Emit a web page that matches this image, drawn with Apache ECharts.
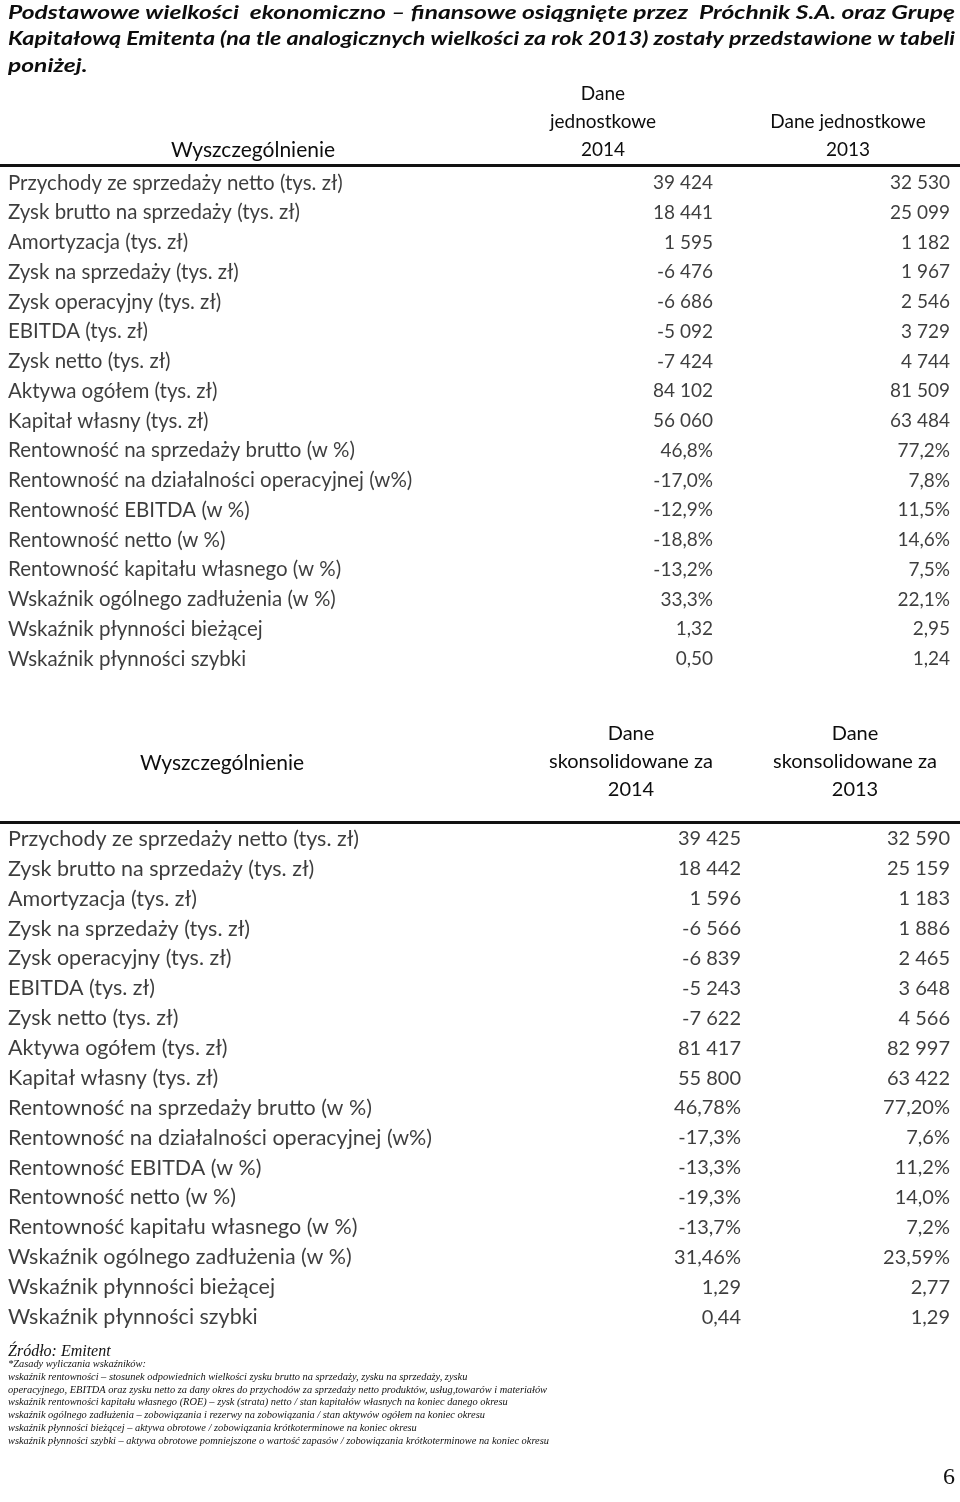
<!DOCTYPE html>
<html>
<head>
<meta charset="utf-8">
<title>Próchnik S.A. - podstawowe wielkości</title>
<script src="https://cdn.jsdelivr.net/npm/echarts@6/dist/echarts.min.js"></script>
<style>
  html, body { margin: 0; padding: 0; background: #fff; }
  #chart { width: 960px; height: 1502px; }
</style>
</head>
<body>
<div id="chart"></div>
<script>
// wiersze tabel
var rowNames1 = [
  'Przychody ze sprzedaży netto (tys. zł)',
  'Zysk brutto na sprzedaży (tys. zł)',
  'Amortyzacja (tys. zł)',
  'Zysk na sprzedaży (tys. zł)',
  'Zysk operacyjny (tys. zł)',
  'EBITDA (tys. zł)',
  'Zysk netto (tys. zł)',
  'Aktywa ogółem (tys. zł)',
  'Kapitał własny (tys. zł)',
  'Rentowność na sprzedaży brutto (w %)',
  'Rentowność na działalności operacyjnej (w%)',
  'Rentowność EBITDA (w %)',
  'Rentowność netto (w %)',
  'Rentowność kapitału własnego (w %)',
  'Wskaźnik ogólnego zadłużenia (w %)',
  'Wskaźnik płynności bieżącej',
  'Wskaźnik płynności szybki'
]
var rowNames2 = rowNames1.slice()

// dane jednostkowe
var unit2014 = ['39 424', '18 441', '1 595', '-6 476', '-6 686', '-5 092', '-7 424', '84 102', '56 060',
  '46,8%', '-17,0%', '-12,9%', '-18,8%', '-13,2%', '33,3%', '1,32', '0,50']
var unit2013 = ['32 530', '25 099', '1 182', '1 967', '2 546', '3 729', '4 744', '81 509', '63 484',
  '77,2%', '7,8%', '11,5%', '14,6%', '7,5%', '22,1%', '2,95', '1,24']

// dane skonsolidowane
var cons2014 = ['39 425', '18 442', '1 596', '-6 566', '-6 839', '-5 243', '-7 622', '81 417', '55 800',
  '46,78%', '-17,3%', '-13,3%', '-19,3%', '-13,7%', '31,46%', '1,29', '0,44']
var cons2013 = ['32 590', '25 159', '1 183', '1 886', '2 465', '3 648', '4 566', '82 997', '63 422',
  '77,20%', '7,6%', '11,2%', '14,0%', '7,2%', '23,59%', '2,77', '1,29']

var header1 = ['Wyszczególnienie', 'Dane\njednostkowe\n2014', 'Dane jednostkowe\n2013']
var header2 = ['Wyszczególnienie', 'Dane\nskonsolidowane za\n2014', 'Dane\nskonsolidowane za\n2013']

var introText = [
  'Podstawowe wielkości  ekonomiczno – finansowe osiągnięte przez  Próchnik S.A. oraz Grupę',
  'Kapitałową Emitenta (na tle analogicznych wielkości za rok 2013) zostały przedstawione w tabeli',
  'poniżej.'
]
var notes = [
  '*Zasady wyliczania wskaźników:',
  'wskaźnik rentowności – stosunek odpowiednich wielkości zysku brutto na sprzedaży, zysku na sprzedaży, zysku',
  'operacyjnego, EBITDA oraz zysku netto za dany okres do przychodów za sprzedaży netto produktów, usług,towarów i materiałów',
  'wskaźnik rentowności kapitału własnego (ROE) – zysk (strata) netto / stan kapitałów własnych na koniec danego okresu',
  'wskaźnik ogólnego zadłużenia – zobowiązania i rezerwy na zobowiązania / stan aktywów ogółem na koniec okresu',
  'wskaźnik płynności bieżącej – aktywa obrotowe / zobowiązania krótkoterminowe na koniec okresu',
  'wskaźnik płynności szybki – aktywa obrotowe pomniejszone o wartość zapasów / zobowiązania krótkoterminowe na koniec okresu'
]

var FONT = 'Lato, "Open Sans", sans-serif'
var SERIF = '"Liberation Serif", "DejaVu Serif", serif'
var chart = echarts.init(document.getElementById('chart'))

// kolumna tekstowa jako scatter z etykietą
function column(gridIdx, xPos, texts, align, size) {
  return {
    type: 'scatter',
    xAxisIndex: gridIdx,
    yAxisIndex: gridIdx,
    symbolSize: 0,
    silent: true,
    data: texts.map(function (t, i) { return [xPos, i, t] }),
    label: {
      show: true,
      position: 'inside',
      align: align,
      verticalAlign: 'middle',
      color: '#0d0d0d',
      fontFamily: FONT,
      fontSize: size,
      formatter: function (p) { return p.data[2] }
    }
  }
}

function grid(top, height) {
  return { left: 0, right: 0, top: top, height: height }
}
function xAx(i) {
  return {
    gridIndex: i, type: 'value', min: 0, max: 960, position: 'top',
    axisLine: { show: true, onZero: false, lineStyle: { color: '#111', width: 3 } },
    axisTick: { show: false }, axisLabel: { show: false }, splitLine: { show: false }
  }
}
function yAx(i, min, max) {
  return {
    gridIndex: i, type: 'value', inverse: true, min: min, max: max,
    axisLine: { show: false }, axisTick: { show: false },
    axisLabel: { show: false }, splitLine: { show: false }
  }
}

var graphics = []

// akapit wyjustowany: linia rozciągnięta do szerokości strony
var ctx = document.createElement('canvas').getContext('2d')
var introFont = 'italic bold 19px ' + FONT
ctx.font = introFont
var firstScale = 947 / ctx.measureText(introText[0]).width
introText.forEach(function (line, i) {
  var s = i < introText.length - 1 ? 947 / ctx.measureText(line).width : firstScale
  graphics.push({
    type: 'text', x: 8, y: 3 + i * 26.5, scaleX: s,
    style: { text: line, font: introFont, fill: '#0d0d0d' }
  })
})

function header(list, xs, ys, sizes) {
  list.forEach(function (t, i) {
    graphics.push({
      type: 'text', x: xs[i], y: ys[i],
      style: {
        text: t, fontFamily: FONT, fontSize: sizes[i], fill: '#0d0d0d',
        align: 'center', verticalAlign: 'bottom', lineHeight: 28
      }
    })
  })
}
header(header1, [253, 603, 848], [164, 164, 164], [21, 19, 19])
header(header2, [222, 631, 855], [777, 804, 804], [21, 20, 20])

graphics.push({
  type: 'text', x: 8, y: 1344,
  style: { text: 'Źródło: Emitent', fontFamily: SERIF, fontSize: 16, fontStyle: 'italic', fill: '#111' }
})
notes.forEach(function (t, i) {
  graphics.push({
    type: 'text', x: 8, y: 1359 + i * 12.9,
    style: { text: t, fontFamily: SERIF, fontSize: 10.4, fontStyle: 'italic', fill: '#111' }
  })
})
graphics.push({
  type: 'text', x: 955, y: 1490,
  style: { text: '6', fontFamily: SERIF, fontSize: 24, fill: '#111', align: 'right', verticalAlign: 'bottom' }
})

chart.setOption({
  animation: false,
  grid: [grid(165, 509), grid(822, 510)],
  xAxis: [xAx(0), xAx(1)],
  yAxis: [yAx(0, -18 / 29.75, 16.5), yAx(1, -17 / 29.8, 16.5)],
  series: [
    column(0, 8, rowNames1, 'left', 20.5),
    column(0, 713, unit2014, 'right', 19),
    column(0, 950, unit2013, 'right', 19),
    column(1, 8, rowNames2, 'left', 21.5),
    column(1, 741, cons2014, 'right', 20),
    column(1, 950, cons2013, 'right', 20)
  ],
  graphic: graphics
})
</script>
</body>
</html>
